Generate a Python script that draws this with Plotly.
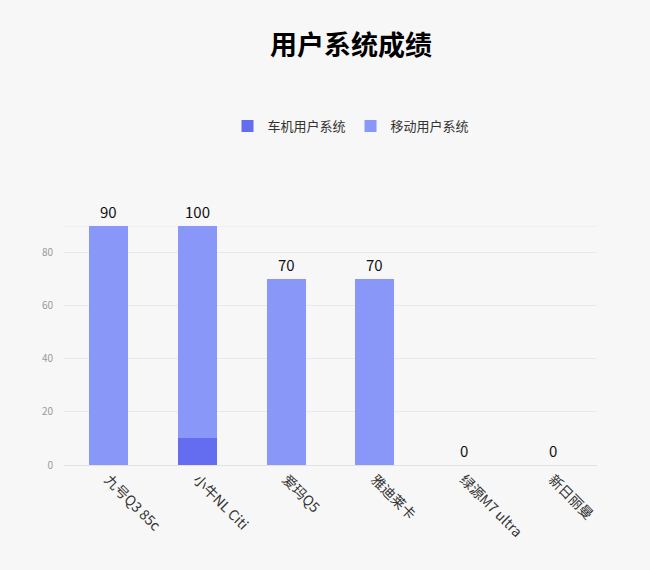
import plotly.graph_objects as go

# 数据
models = ['九号Q3 85c', '小牛NL Citi', '爱玛Q5', '雅迪莱卡', '绿源M7 ultra', '新日丽曼']
carScore = [0, 10, 0, 0, 0, 0]
mobileScore = [90, 80, 70, 70, 0, 0]
totalLabel = [90, 100, 70, 70, 0, 0]

seriesNames = ['车机用户系统', '移动用户系统']
colors = {
    '车机用户系统': '#646CF0',
    '移动用户系统': '#8997F8',
}

fontName = 'Noto Sans CJK SC'

fig = go.Figure()
fig.add_trace(go.Bar(x=models, y=carScore, name=seriesNames[0],
                     marker=dict(color=colors[seriesNames[0]], line=dict(width=0))))
fig.add_trace(go.Bar(x=models, y=mobileScore, name=seriesNames[1],
                     marker=dict(color=colors[seriesNames[1]], line=dict(width=0))))

# 柱顶数值
stackTop = [c + m for c, m in zip(carScore, mobileScore)]
for m, top, lab in zip(models, stackTop, totalLabel):
    fig.add_annotation(x=m, y=top, text=str(lab), showarrow=False, yanchor='bottom', yshift=2,
                       font=dict(size=15, color='#111111', family=fontName))

fig.update_layout(
    barmode='stack',
    bargap=0.56,
    width=650, height=570,
    paper_bgcolor='#f7f7f7',
    plot_bgcolor='#f7f7f7',
    font=dict(family=fontName, color='#333333'),
    title=dict(text='<b>用户系统成绩</b>', x=0.54, xanchor='center', y=0.92, yanchor='middle',
               font=dict(size=27, color='#000000', family=fontName)),
    legend=dict(orientation='h', x=0.54, xanchor='center', y=0.779, yanchor='middle',
                xref='container', yref='container',
                font=dict(size=13, color='#333333'), itemwidth=30, traceorder='normal'),
    margin=dict(l=64, r=53, t=226, b=105),
    xaxis=dict(tickangle=45, tickfont=dict(size=14, color='#333333'),
               showline=True, linecolor='#e3e3e3', ticks=''),
    yaxis=dict(range=[0, 90], tickvals=[0, 20, 40, 60, 80], tickfont=dict(size=10, color='#999999'),
               gridcolor='#e8e8ee', zeroline=False, showline=False, ticks='outside',
               ticklen=8, tickcolor='rgba(0,0,0,0)'),
)
fig.add_shape(type='line', xref='paper', yref='y', x0=0, x1=1, y0=90, y1=90,
              line=dict(color='#e8e8ee', width=1), layer='below')

fig.write_html('out.html', config={'displayModeBar': False},
               post_script="document.body.style.margin='0';")
